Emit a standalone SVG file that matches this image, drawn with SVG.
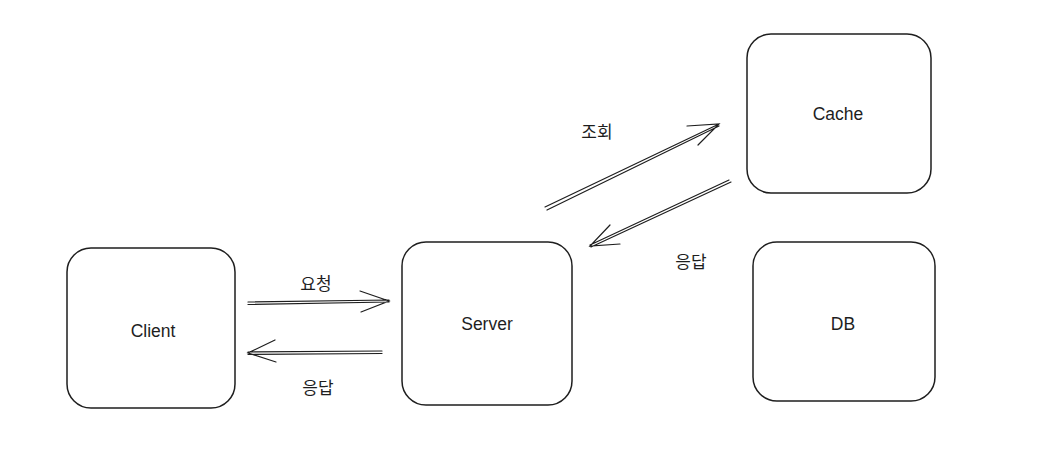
<svg xmlns="http://www.w3.org/2000/svg" width="1045" height="461" viewBox="0 0 1045 461">
<style>
.box{fill:none;stroke:#1e1e1e;stroke-width:1.5}
.lbl{font-family:"Liberation Sans",Arial,sans-serif;font-size:17.5px;fill:#1e1e1e;text-anchor:middle;dominant-baseline:central}
.kor{font-family:"Liberation Sans","Noto Sans CJK KR",sans-serif;font-size:17px;fill:#1e1e1e;text-anchor:middle;dominant-baseline:central}
.ln{fill:none;stroke:#1e1e1e;stroke-width:1.2;stroke-linecap:round}
</style>
<rect width="1045" height="461" fill="#ffffff"/>
<g id="client"><rect class="box" x="67" y="248" width="168" height="160" rx="24"/><text class="lbl" x="153" y="331">Client</text></g>
<g id="server"><rect class="box" x="402" y="242" width="170" height="163" rx="24"/><text class="lbl" x="487" y="324">Server</text></g>
<g id="cache"><rect class="box" x="747" y="34" width="184" height="159" rx="24"/><text class="lbl" x="838" y="114">Cache</text></g>
<g id="db"><rect class="box" x="753" y="242" width="182" height="159" rx="24"/><text class="lbl" x="843" y="324">DB</text></g>
<g id="connectors">
<path class="ln" d="M248 302 L389 300 M248 304.5 L389 302 M360 291 L389 301 L361 312"/>
<path class="ln" d="M382 351 L248 352 M382 353.5 L248 354.5 M275 340 L248 353 L276 362"/>
<path class="ln" d="M545 207 L719 124 M547 210 L719 126 M687 126 L719 124 L698 145"/>
<path class="ln" d="M729 180 L590 245 M731 182 L591 247 M610 225 L590 246 L620 244"/>
</g>
<g id="labels">
<text class="kor" x="316" y="284">요청</text>
<text class="kor" x="318" y="388">응답</text>
<text class="kor" x="597" y="132">조회</text>
<text class="kor" x="691" y="262">응답</text>
</g>
</svg>
